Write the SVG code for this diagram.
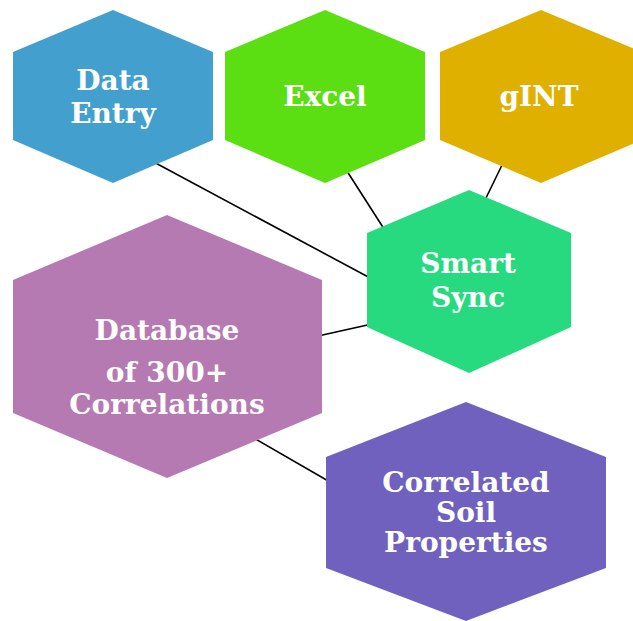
<svg xmlns="http://www.w3.org/2000/svg" width="633" height="621" viewBox="0 0 633 621">
<style>
.lbl{font-family:"DejaVu Serif","Liberation Serif",serif;font-weight:bold;font-size:28px;fill:#ffffff;text-anchor:middle}
.conn{stroke:#000000;stroke-width:1.6;fill:none}
</style>
<rect width="633" height="621" fill="#ffffff"/>
<g id="connectors">
<line class="conn" x1="150" y1="160" x2="372" y2="279"/>
<line class="conn" x1="345" y1="168" x2="386" y2="232"/>
<line class="conn" x1="503" y1="163" x2="485" y2="200"/>
<line class="conn" x1="318" y1="336" x2="372" y2="324"/>
<line class="conn" x1="252" y1="437" x2="330" y2="482"/>
</g>
<g id="data-entry">
<polygon points="113,10 213,52 213,140 113,183 13,140 13,52" fill="#439fce"/>
<text class="lbl" x="113" y="90">Data</text>
<text class="lbl" x="113" y="123">Entry</text>
</g>
<g id="excel">
<polygon points="325,10 425,52 425,140 325,183 225,140 225,52" fill="#5bde12"/>
<text class="lbl" x="325" y="106">Excel</text>
</g>
<g id="gint">
<polygon points="541,10 642,52 642,140 541,183 440,140 440,52" fill="#dfb000"/>
<text class="lbl" x="539" y="106">gINT</text>
</g>
<g id="smart-sync">
<polygon points="469,190 571,233 571,327 469,373 367,327 367,233" fill="#27da80"/>
<text class="lbl" x="468" y="273">Smart</text>
<text class="lbl" x="468" y="307">Sync</text>
</g>
<g id="database">
<polygon points="167,215 322,280 322,413 167,478 13,413 13,280" fill="#b57ab2"/>
<text class="lbl" x="167" y="340">Database</text>
<text class="lbl" x="167" y="382">of 300+</text>
<text class="lbl" x="167" y="414">Correlations</text>
</g>
<g id="correlated-soil-properties">
<polygon points="466,402 606,457 606,568 466,621 326,568 326,457" fill="#7161be"/>
<text class="lbl" x="466" y="492">Correlated</text>
<text class="lbl" x="466" y="522">Soil</text>
<text class="lbl" x="466" y="552">Properties</text>
</g>
</svg>
